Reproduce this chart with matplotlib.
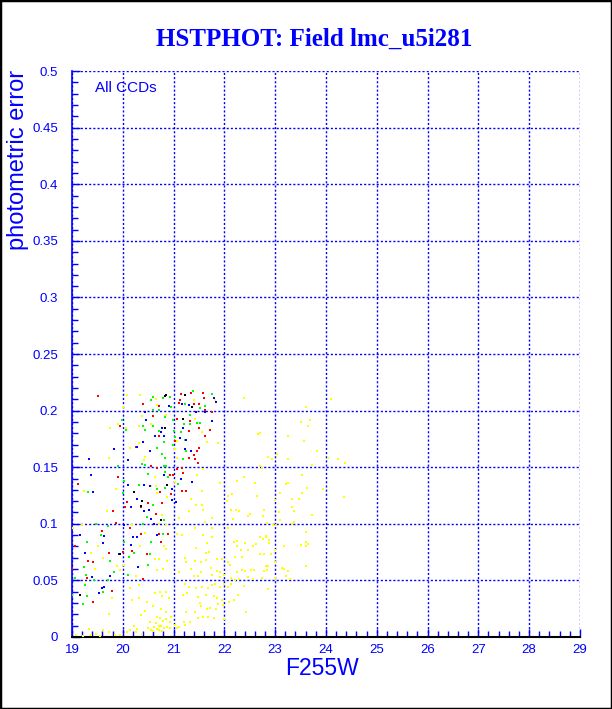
import matplotlib
matplotlib.use('Agg')
import matplotlib.pyplot as plt
from matplotlib.patches import Rectangle
from matplotlib.ticker import MultipleLocator, FormatStrFormatter

# star positions (magnitude F255W, photometric error), one list per CCD colour
red_pts = [(19.51,0.213),(20.40,0.206),(20.71,0.204),(20.59,0.195),(19.95,0.186),(20.72,0.178),
    (20.27,0.168),(20.56,0.151),(20.67,0.149),(19.91,0.141),(19.11,0.135),(20.74,0.128),(20.09,0.119),
    (20.50,0.118),(20.78,0.118),(20.36,0.115),(20.05,0.115),
    (21.15,0.215),(21.34,0.216),(21.58,0.216),(21.12,0.209),(21.10,0.207),(21.40,0.206),(21.60,0.211),
    (21.51,0.206),(21.61,0.201),(21.75,0.199),(21.07,0.193),(21.33,0.191),(21.50,0.185),(21.31,0.182),
    (21.71,0.183),(21.61,0.178),(21.03,0.173),(21.46,0.164),(21.50,0.167),(21.41,0.161),(21.42,0.157),
    (21.31,0.158),(21.48,0.154),(21.16,0.149),(21.06,0.148),(21.18,0.145),(20.93,0.143),(20.98,0.143),
    (21.16,0.129),(21.25,0.129),(20.95,0.126),
    (19.81,0.111),(20.66,0.109),(19.87,0.101),(20.14,0.096),(19.60,0.094),(20.35,0.091),(20.71,0.091),
    (20.76,0.084),(19.05,0.080),(19.72,0.074),(20.19,0.076),(20.47,0.073),(20.01,0.075),(19.41,0.066),
    (19.32,0.067),(19.00,0.060),(19.30,0.052),(20.40,0.051),(19.78,0.041),(19.41,0.031),(20.90,0.091)]

green_pts = [(20.60,0.212),(20.79,0.211),(20.56,0.209),(20.60,0.201),(20.72,0.201),(20.83,0.194),
    (19.99,0.192),(20.06,0.183),(20.40,0.186),(20.59,0.186),(20.43,0.183),(20.72,0.182),(20.81,0.172),
    (20.68,0.167),(20.78,0.162),(20.38,0.153),(20.44,0.152),(19.91,0.151),(20.82,0.151),(20.83,0.146),
    (20.50,0.144),(20.02,0.138),(20.83,0.132),(20.67,0.131),(19.32,0.128),(20.01,0.127),(20.59,0.117),
    (20.31,0.134),
    (21.39,0.217),(21.76,0.215),(20.93,0.212),(21.23,0.206),(21.62,0.204),(20.95,0.203),(21.52,0.202),
    (21.32,0.196),(20.98,0.192),(21.20,0.188),(21.32,0.188),(21.46,0.189),(21.53,0.189),(21.00,0.182),
    (21.15,0.181),(21.03,0.177),(21.22,0.174),(21.24,0.164),(21.19,0.157),(20.84,0.158),(20.86,0.151),
    (20.89,0.141),(21.08,0.135),(20.98,0.170),
    (20.47,0.106),(19.48,0.100),(19.71,0.098),(20.40,0.100),(20.79,0.091),(19.57,0.090),(20.56,0.084),
    (20.03,0.084),(19.29,0.084),(20.22,0.074),(20.54,0.073),(20.12,0.071),(19.74,0.067),(19.24,0.062),
    (20.50,0.064),(19.83,0.057),(20.11,0.055),(19.28,0.055),(19.05,0.052),(19.44,0.050),(19.70,0.050),
    (19.26,0.046),(19.62,0.040),(19.01,0.037),(19.30,0.036),(19.22,0.029),(20.81,0.103)]

blue_pts = [(20.43,0.199),(20.45,0.192),(20.78,0.185),(20.75,0.181),(20.64,0.178),(20.81,0.178),
    (20.40,0.172),(19.83,0.166),(20.53,0.164),(19.34,0.157),(20.11,0.156),(20.82,0.143),(19.38,0.143),
    (20.11,0.134),(20.42,0.134),(20.53,0.133),(19.42,0.128),(20.29,0.122),(20.17,0.115),(20.28,0.168),
    (21.16,0.206),(21.31,0.205),(21.79,0.211),(21.84,0.208),(20.92,0.204),(21.44,0.199),(21.62,0.199),
    (21.76,0.191),(21.19,0.185),(21.12,0.176),(21.25,0.174),(21.23,0.166),(21.35,0.164),(21.14,0.140),
    (21.37,0.137),(20.97,0.131),(20.97,0.121),(21.05,0.119),
    (20.42,0.111),(20.51,0.112),(20.56,0.104),(20.03,0.099),(20.61,0.100),(19.15,0.090),(20.68,0.090),
    (20.21,0.088),(20.29,0.088),(19.64,0.089),(19.62,0.083),(20.17,0.081),(19.25,0.074),(19.93,0.073),
    (20.30,0.062),(19.40,0.053),(19.74,0.054),(19.64,0.044),(19.60,0.043),(19.53,0.039)]

black_pts = [(20.83,0.213),(20.22,0.128),(20.38,0.120),(20.36,0.116),(21.22,0.214),(20.85,0.214),
    (21.37,0.203),(21.19,0.193),(20.84,0.185),(20.88,0.134),(20.75,0.103),(19.94,0.073),(19.15,0.037)]

yellow_pts = [(20.09,0.214),(20.33,0.214),(20.66,0.210),(20.68,0.205),(20.01,0.203),(20.37,0.195),
    (20.83,0.195),(19.91,0.188),(19.75,0.185),(20.07,0.185),(20.31,0.186),(20.55,0.188),(20.31,0.171),
    (20.15,0.167),(20.44,0.159),(19.72,0.158),(20.42,0.156),(20.64,0.141),(20.56,0.133),(20.65,0.133),
    (19.87,0.131),(19.24,0.129),(20.68,0.127),
    (21.41,0.209),(21.82,0.209),(20.85,0.196),(21.42,0.193),(21.56,0.181),(21.06,0.173),(21.66,0.172),
    (21.87,0.171),(21.02,0.166),(21.07,0.158),(21.58,0.148),(21.46,0.143),(21.02,0.137),(21.91,0.136),
    (21.56,0.129),(20.87,0.124),(21.35,0.122),(21.44,0.117),(21.56,0.117),(22.08,0.125),(22.05,0.120),
    (22.16,0.126),(22.24,0.138),(22.38,0.211),(22.39,0.141),(22.60,0.136),(22.66,0.179),(22.65,0.125),
    (24.10,0.210),(23.61,0.203),(23.50,0.190),(23.68,0.192),(23.64,0.186),(22.71,0.180),(23.25,0.178),
    (23.56,0.173),(23.82,0.164),(23.03,0.162),(22.86,0.159),(22.93,0.157),(23.25,0.157),(24.05,0.158),
    (24.23,0.157),(24.37,0.154),(23.73,0.152),(22.71,0.151),(22.74,0.149),(23.52,0.143),(23.25,0.136),
    (23.21,0.135),(23.63,0.132),(23.95,0.131),(23.09,0.127),(23.52,0.127),(24.36,0.124),(23.33,0.122),
    (23.46,0.122),(23.00,0.121),(23.33,0.115),
    (19.68,0.111),(20.77,0.108),(19.20,0.099),(20.19,0.099),(20.72,0.100),(19.03,0.096),(20.43,0.092),
    (19.52,0.080),(20.34,0.080),(20.81,0.080),(19.37,0.074),(19.61,0.070),(20.64,0.069),(20.72,0.069),
    (19.45,0.060),(19.89,0.063),(20.03,0.064),(20.67,0.059),(19.94,0.059),(20.26,0.054),(20.80,0.060),
    (19.25,0.047),(20.32,0.046),(20.14,0.043),(20.63,0.039),(20.74,0.040),(19.79,0.034),(20.19,0.033),
    (20.32,0.034),(20.47,0.031),(20.59,0.027),(20.75,0.025),(20.78,0.036),(20.43,0.023),(19.72,0.020),
    (20.35,0.019),(20.67,0.018),(20.74,0.017),(20.54,0.013),(20.66,0.012),(20.79,0.014),
    (19.33,0.007),(19.48,0.003),(19.62,0.006),(19.72,0.004),(19.85,0.002),(19.95,0.002),(19.08,0.002),
    (19.21,0.001),(19.37,0.002),(19.55,0.001),(20.09,0.004),(20.15,0.006),(20.26,0.004),(20.28,0.007),
    (20.38,0.003),(20.50,0.008),(20.55,0.006),(20.62,0.009),(20.67,0.007),(20.71,0.010),(20.76,0.010),
    (20.81,0.008),(20.78,0.005),(20.72,0.006),(20.59,0.005),(20.22,0.010),
    (21.10,0.105),(21.31,0.111),(21.58,0.112),(21.75,0.105),(21.61,0.102),(22.14,0.112),(22.22,0.112),
    (22.29,0.111),(22.47,0.107),(22.50,0.109),(22.17,0.104),(20.85,0.099),(21.07,0.091),(21.16,0.090),
    (21.42,0.096),(21.75,0.096),(22.07,0.096),(21.58,0.090),(21.75,0.088),(21.66,0.083),(21.45,0.079),
    (21.63,0.074),(21.70,0.075),(22.24,0.085),(22.18,0.084),(22.40,0.083),(22.24,0.080),(22.62,0.082),
    (22.56,0.080),(22.33,0.077),(22.46,0.077),(22.21,0.071),(22.34,0.071),(20.85,0.078),(20.88,0.067),
    (21.23,0.070),(21.25,0.066),(21.42,0.067),(21.54,0.066),(21.86,0.069),(21.95,0.069),(21.73,0.061),
    (21.63,0.068),(21.86,0.058),(21.91,0.057),(22.07,0.066),(22.12,0.064),(22.35,0.059),(22.41,0.058),
    (22.52,0.059),(22.58,0.059),(21.35,0.060),(21.11,0.057),(21.54,0.057),(21.40,0.054),(21.49,0.054),
    (21.75,0.055),(21.91,0.053),(22.00,0.055),(22.25,0.057),(22.13,0.052),(22.21,0.050),(22.29,0.051),
    (22.46,0.053),(22.56,0.051),(21.23,0.047),(21.31,0.044),(21.45,0.043),(21.56,0.044),(21.67,0.043),
    (21.75,0.046),(21.82,0.047),(21.91,0.044),(22.00,0.047),(22.07,0.044),(22.14,0.047),(22.38,0.045),
    (22.26,0.037),(22.18,0.033),(22.09,0.031),(20.85,0.040),(20.92,0.034),(21.19,0.037),(21.27,0.039),
    (21.49,0.035),(21.63,0.037),(21.79,0.036),(21.86,0.034),(21.96,0.033),(21.52,0.030),(21.54,0.027),
    (21.66,0.025),(21.71,0.026),(21.84,0.025),(21.98,0.028),(21.88,0.029),(21.42,0.022),(21.25,0.022),
    (21.49,0.017),(21.58,0.018),(21.67,0.018),(21.80,0.017),(21.99,0.016),(22.42,0.022),(20.86,0.022),
    (20.95,0.018),(20.85,0.016),(20.93,0.013),(21.03,0.011),(21.10,0.009),(21.06,0.008),(21.20,0.013),
    (21.23,0.011),(21.33,0.013),(20.88,0.009),(20.93,0.008),
    (22.78,0.112),(22.76,0.107),(23.07,0.110),(23.38,0.111),(23.72,0.108),(23.10,0.103),(22.83,0.101),
    (22.95,0.099),(23.01,0.099),(23.33,0.100),(23.37,0.102),(23.60,0.093),(22.81,0.089),(22.71,0.088),
    (22.76,0.087),(22.88,0.086),(22.81,0.088),(22.87,0.083),(23.17,0.080),(23.50,0.081),(23.60,0.084),
    (23.64,0.082),(23.60,0.080),(23.00,0.077),(22.71,0.073),(22.79,0.073),(22.92,0.073),(23.00,0.066),
    (22.81,0.063),(22.86,0.063),(23.14,0.061),(23.18,0.060),(23.60,0.063),(22.79,0.058),(22.83,0.059),
    (23.26,0.058),(23.22,0.054),(22.74,0.052),(22.99,0.052),(23.30,0.051),(22.86,0.042)]

series = [(yellow_pts, '#ffff00'), (red_pts, '#ff0000'), (green_pts, '#00ff00'),
          (blue_pts, '#0000ff'), (black_pts, '#000000')]

BLUE = '#0000ff'
plt.rcParams['font.family'] = ['Liberation Sans', 'DejaVu Sans']

fig = plt.figure(figsize=(6.12, 7.09), dpi=100)
ax = fig.add_axes([0.1176, 0.1016, 0.830, 0.798])

for pts, col in series:
    xs = [p[0] for p in pts]
    ys = [p[1] for p in pts]
    ax.scatter(xs, ys, s=4.5, marker='s', c=col, linewidths=0, zorder=3)

ax.set_xlim(19, 29)
ax.set_ylim(0, 0.5)
ax.xaxis.set_major_locator(MultipleLocator(1))
ax.xaxis.set_minor_locator(MultipleLocator(0.2))
ax.yaxis.set_major_locator(MultipleLocator(0.05))
ax.yaxis.set_minor_locator(MultipleLocator(0.01))
ax.yaxis.set_major_formatter(FormatStrFormatter('%g'))

ax.grid(True, which='major', color=BLUE, linestyle=(0, (1.5, 1.5)), linewidth=1)
ax.set_axisbelow(True)

ax.tick_params(which='both', direction='in', color=BLUE, labelcolor=BLUE, labelsize=9.5,
               top=False, right=False)
ax.tick_params(which='major', length=6, width=1)
ax.tick_params(which='minor', length=4, width=1)
ax.tick_params(axis='x', pad=5)
ax.tick_params(axis='y', pad=10)

ax.spines['top'].set_visible(False)
ax.spines['right'].set_visible(False)
ax.spines['bottom'].set_color('black')
ax.spines['bottom'].set_linewidth(1.5)
ax.spines['left'].set_color(BLUE)
ax.spines['left'].set_linewidth(1.2)

ax.text(0.045, 0.97, 'All CCDs', transform=ax.transAxes, color=BLUE, fontsize=11,
        ha='left', va='center')

fig.text(0.5262, 0.057, 'F255W', color=BLUE, fontsize=16.5, ha='center', va='center')
fig.text(0.029, 0.901, 'photometric error', color=BLUE, fontsize=17, rotation=90,
         ha='center', va='top')
fig.text(0.513, 0.944, 'HSTPHOT: Field lmc_u5i281', color=BLUE, fontsize=18,
         fontweight='bold', family=['Liberation Serif', 'DejaVu Serif'], ha='center', va='center')

fig.patches.append(Rectangle((0, 0), 1, 1, transform=fig.transFigure, fill=False,
                             edgecolor='black', linewidth=2.5))

fig.savefig('out.png', dpi=100)
